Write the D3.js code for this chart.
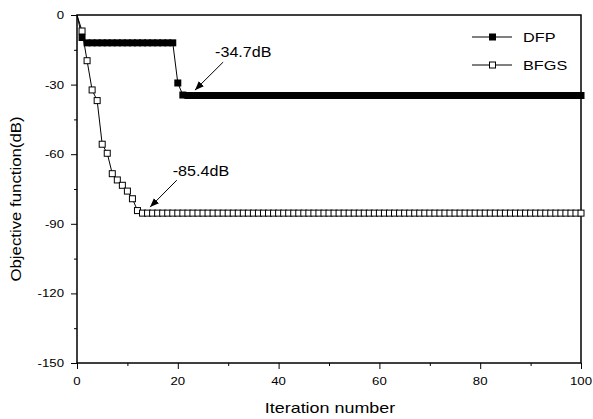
<!DOCTYPE html>
<html><head><meta charset="utf-8">
<script src="https://cdn.jsdelivr.net/npm/d3@7"></script>
<style>body{margin:0;background:#fff}svg{display:block}text{font-family:"Liberation Sans",Arial,sans-serif;fill:#000}</style>
</head><body><svg id="c" width="593" height="419"></svg>
<script>
const seriesNames = ["DFP", "BFGS"];
const iterations = [0,1,2,3,4,5,6,7,8,9,10,11,12,13,14,15,16,17,18,19,20,21,22,23,24,25,26,27,28,29,30,31,32,33,34,35,36,37,38,39,40,41,42,43,44,45,46,47,48,49,50,51,52,53,54,55,56,57,58,59,60,61,62,63,64,65,66,67,68,69,70,71,72,73,74,75,76,77,78,79,80,81,82,83,84,85,86,87,88,89,90,91,92,93,94,95,96,97,98,99,100];
// DFP: iterations 0..21, then 22..100 (79 values, 7 rows of 11 + 2)
const dfpValues = [0,-9.7,-12,-12,-12,-12,-12,-12,-12,-12,-12,-12,-12,-12,-12,-12,-12,-12,-12,-12,-29.3,-34.5,
 -34.7,-34.7,-34.7,-34.7,-34.7,-34.7,-34.7,-34.7,-34.7,-34.7,-34.7,
 -34.7,-34.7,-34.7,-34.7,-34.7,-34.7,-34.7,-34.7,-34.7,-34.7,-34.7,
 -34.7,-34.7,-34.7,-34.7,-34.7,-34.7,-34.7,-34.7,-34.7,-34.7,-34.7,
 -34.7,-34.7,-34.7,-34.7,-34.7,-34.7,-34.7,-34.7,-34.7,-34.7,-34.7,
 -34.7,-34.7,-34.7,-34.7,-34.7,-34.7,-34.7,-34.7,-34.7,-34.7,-34.7,
 -34.7,-34.7,-34.7,-34.7,-34.7,-34.7,-34.7,-34.7,-34.7,-34.7,-34.7,
 -34.7,-34.7,-34.7,-34.7,-34.7,-34.7,-34.7,-34.7,-34.7,-34.7,-34.7,
 -34.7,-34.7];
// BFGS: iterations 0..12, then 13..100 (88 values, 8 rows of 11)
const bfgsValues = [0,-6.9,-19.7,-32.3,-36.9,-55.7,-59.6,-68.4,-71.1,-73.4,-75.9,-79.2,-84.3,
 -85.4,-85.4,-85.4,-85.4,-85.4,-85.4,-85.4,-85.4,-85.4,-85.4,-85.4,
 -85.4,-85.4,-85.4,-85.4,-85.4,-85.4,-85.4,-85.4,-85.4,-85.4,-85.4,
 -85.4,-85.4,-85.4,-85.4,-85.4,-85.4,-85.4,-85.4,-85.4,-85.4,-85.4,
 -85.4,-85.4,-85.4,-85.4,-85.4,-85.4,-85.4,-85.4,-85.4,-85.4,-85.4,
 -85.4,-85.4,-85.4,-85.4,-85.4,-85.4,-85.4,-85.4,-85.4,-85.4,-85.4,
 -85.4,-85.4,-85.4,-85.4,-85.4,-85.4,-85.4,-85.4,-85.4,-85.4,-85.4,
 -85.4,-85.4,-85.4,-85.4,-85.4,-85.4,-85.4,-85.4,-85.4,-85.4,-85.4,
 -85.4,-85.4,-85.4,-85.4,-85.4,-85.4,-85.4,-85.4,-85.4,-85.4,-85.4];
const xTicks = [0,20,40,60,80,100];
const xMinorTicks = [10,30,50,70,90];
const yTicks = [0,-30,-60,-90,-120,-150];
const yMinorTicks = [-15,-45,-75,-105,-135];
const annoTexts = ["-34.7dB", "-85.4dB"];
const annoTextPos = [[27.4,-18],[19,-69.2]];
const annoArrowFrom = [[29,-20.3],[19.8,-71.2]];
const annoArrowTo = [[23.4,-32.4],[14.5,-82.8]];

const svg = d3.select("#c");
const L=77, R=581, T=15, B=363;
const x = d3.scaleLinear().domain([0,100]).range([L,R]);
const y = d3.scaleLinear().domain([-150,0]).range([B,T]);
const SX = 1.2;

function txt(g, str, px, py, size, anchor, sx){
  return g.append("text").attr("transform",`translate(${px},${py}) scale(${sx||SX},1)`)
    .attr("font-size",size).attr("text-anchor",anchor||"start").text(str);
}

// tick marks
const gx = svg.append("g").attr("transform",`translate(0,${B})`);
gx.call(d3.axisBottom(x).tickValues(xTicks).tickSize(6).tickFormat(""));
svg.append("g").attr("transform",`translate(0,${B})`).call(d3.axisBottom(x).tickValues(xMinorTicks).tickSize(3).tickFormat(""));
const gy = svg.append("g").attr("transform",`translate(${L},0)`);
gy.call(d3.axisLeft(y).tickValues(yTicks).tickSize(6).tickFormat(""));
svg.append("g").attr("transform",`translate(${L},0)`).call(d3.axisLeft(y).tickValues(yMinorTicks).tickSize(3).tickFormat(""));
svg.selectAll(".domain").remove();
svg.selectAll(".tick line").attr("stroke","#000").attr("stroke-width",1);
// tick labels (hyphen minus, slightly wide font)
xTicks.forEach(v=>txt(svg,String(v),x(v),B+22,11,"middle",1.2));
yTicks.forEach(v=>txt(svg,String(v),L-13,y(v)+4,11,"end",1.2));

// frame
svg.append("rect").attr("x",x(0)).attr("y",y(0)).attr("width",x(100)-x(0)).attr("height",y(-150)-y(0))
  .attr("fill","none").attr("stroke","#000").attr("stroke-width",1.5);

const line = d3.line().x(d=>x(d[0])).y(d=>y(d[1]));
const dfp = iterations.map((it,i)=>[it,dfpValues[i]]);
const bfgs = iterations.map((it,i)=>[it,bfgsValues[i]]);
const S=7;
svg.append("path").attr("d",line(bfgs)).attr("fill","none").attr("stroke","#000").attr("stroke-width",1);
svg.append("path").attr("d",line(dfp)).attr("fill","none").attr("stroke","#000").attr("stroke-width",1);
svg.append("g").selectAll("rect").data(dfp.filter(d=>d[0]>=1)).join("rect")
  .attr("x",d=>x(d[0])-S/2).attr("y",d=>y(d[1])-S/2).attr("width",S).attr("height",S).attr("fill","#000");
svg.append("g").selectAll("rect").data(bfgs.filter(d=>d[0]>=1)).join("rect")
  .attr("x",d=>x(d[0])-S/2+0.5).attr("y",d=>y(d[1])-S/2+0.5).attr("width",S-1).attr("height",S-1)
  .attr("fill","#fff").attr("stroke","#000").attr("stroke-width",1);

// annotations
svg.append("defs").append("marker").attr("id","ah").attr("viewBox","0 0 10 10").attr("refX",10).attr("refY",5)
  .attr("markerWidth",9).attr("markerHeight",9).attr("markerUnits","userSpaceOnUse").attr("orient","auto")
  .append("path").attr("d","M0,1 L10,5 L0,9 Z").attr("fill","#000");
annoTexts.forEach((t,i)=>{
  txt(svg,t,x(annoTextPos[i][0]),y(annoTextPos[i][1]),14,"start",1.15);
  svg.append("line").attr("x1",x(annoArrowFrom[i][0])).attr("y1",y(annoArrowFrom[i][1]))
    .attr("x2",x(annoArrowTo[i][0])).attr("y2",y(annoArrowTo[i][1]))
    .attr("stroke","#000").attr("stroke-width",1).attr("marker-end","url(#ah)");
});

// legend
seriesNames.forEach((n,i)=>{
  const ly = 37 + i*28;
  svg.append("line").attr("x1",472).attr("x2",512).attr("y1",ly).attr("y2",ly).attr("stroke","#000").attr("stroke-width",1);
  if(i===0) svg.append("rect").attr("x",489).attr("y",ly-3.5).attr("width",7).attr("height",7).attr("fill","#000");
  else svg.append("rect").attr("x",489.5).attr("y",ly-3).attr("width",6).attr("height",6).attr("fill","#fff").attr("stroke","#000");
  txt(svg,n,523,ly+5,13,"start",1.25);
});

// axis titles
txt(svg,"Iteration number",(L+R)/2 + 1,413,14,"middle",1.28);
svg.append("text").attr("transform",`translate(21,199) rotate(-90) scale(1.2,1)`).attr("font-size",14)
  .attr("text-anchor","middle").text("Objective function(dB)");
</script></body></html>
